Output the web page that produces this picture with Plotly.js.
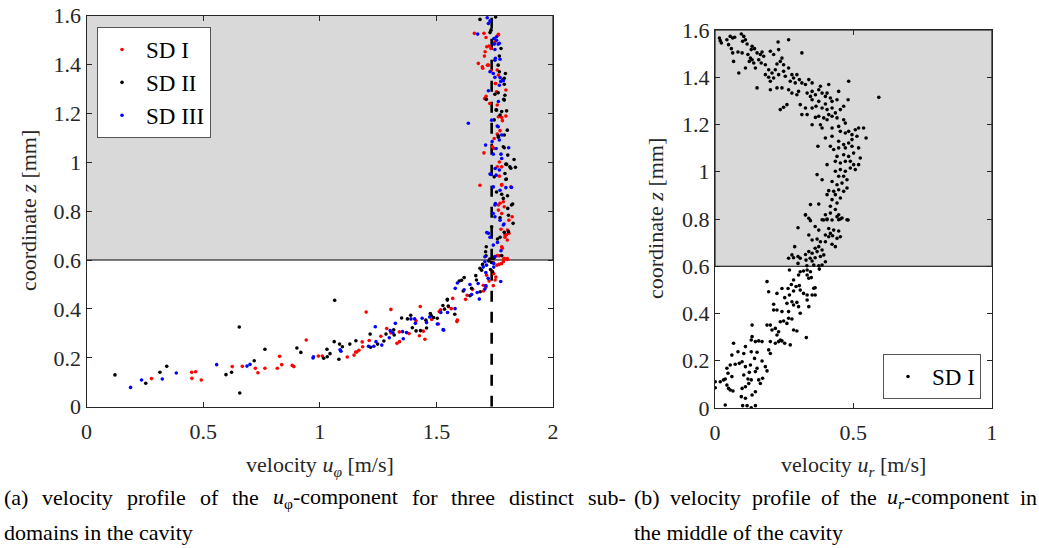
<!DOCTYPE html>
<html>
<head>
<meta charset="utf-8">
<script src="https://cdn.plot.ly/plotly-3.0.1.min.js"></script>
<style>html,body{margin:0;padding:0;background:#fff;}#chart{width:1039px;height:548px;}</style>
</head>
<body>
<div id="chart"></div>
<script>
// ---------- DATA (a): u_phi [m/s] vs z [mm] ----------
const sd1U = [0.279,0.451,0.468,0.452,0.492,0.625,0.668,0.724,0.735,0.765,0.818,0.828,0.837,0.882,0.889,0.942,0.994,1.011,1.118,1.147,1.154,1.159,1.168,1.184,1.182,1.199,1.212,1.262,1.287,1.305,1.305,1.331,1.342,1.341,1.383,1.413,1.427,1.431,1.444,1.451,1.480,1.509,1.512,1.518,1.564,1.588,1.552,1.570,1.590,
1.625,1.632,1.655,1.702,1.715,1.726,1.701,1.713,1.746,1.752,1.755,1.744,1.760,1.769,1.779,1.789,1.804,1.751,1.737,
1.663,1.704,1.766,1.713,1.751,1.716,1.734,1.709,1.706,1.680,1.719,1.699,1.761,1.766,1.753,1.758,1.798,1.713,1.707,1.761,1.766,1.798,1.783,1.773,1.761,1.740,1.704,1.770,1.780,1.770,1.687,1.780,1.819,1.773,1.787,1.766,1.780,1.811,1.777,1.801,1.794,1.804,1.780,1.770,1.790,1.804,
1.765,1.726,1.697,1.723,1.734,1.754,1.729,1.780,1.748,1.748,1.761,1.780,1.766,1.791,1.825,1.805,1.794,1.811,1.783,1.761,1.787,1.744];
const sd1Z = [0.115,0.141,0.143,0.116,0.109,0.164,0.165,0.157,0.139,0.157,0.157,0.206,0.172,0.169,0.164,0.273,0.207,0.207,0.203,0.211,0.224,0.224,0.231,0.245,0.265,0.387,0.271,0.288,0.320,0.302,0.398,0.259,0.266,0.306,0.299,0.351,0.290,0.410,0.309,0.276,0.357,0.338,0.389,0.396,0.401,0.348,0.409,0.443,0.354,
0.439,0.456,0.480,0.473,0.538,0.514,0.497,0.490,0.544,0.518,0.530,0.495,0.579,0.582,0.585,0.601,0.602,0.613,0.555,
1.527,1.527,1.523,1.510,1.492,1.472,1.465,1.452,1.434,1.404,1.397,1.384,1.377,1.356,1.322,1.288,1.295,1.270,1.260,1.234,1.186,1.189,1.170,1.129,1.115,1.063,1.038,1.001,0.981,0.943,0.906,0.909,0.899,0.832,0.838,0.804,0.790,0.763,0.726,0.703,0.693,0.682,0.654,0.617,0.607,0.606,
1.519,1.475,1.390,1.397,1.374,1.322,1.240,1.183,1.097,1.056,0.981,0.906,0.825,0.818,0.777,0.723,0.702,0.709,0.648,0.618,0.593,0.590];

const sd2U = [0.122,0.254,0.315,0.344,0.598,0.622,0.655,0.657,0.719,0.765,0.902,0.919,1.017,1.032,1.031,1.044,1.064,1.062,1.082,1.097,1.085,1.129,1.155,1.218,1.216,1.248,1.275,1.284,1.317,1.319,1.351,1.376,1.390,1.397,1.413,1.432,1.455,1.458,1.474,1.478,1.488,1.504,1.528,1.535,1.547,1.551,1.579,1.547,
1.598,1.608,1.619,1.615,1.651,1.644,1.669,1.672,1.688,1.687,1.694,1.698,1.732,1.736,1.741,1.746,1.729,1.724,
1.687,1.754,1.734,1.730,1.777,1.770,1.770,1.796,1.791,1.784,1.791,1.751,1.714,1.794,1.789,1.756,1.780,1.801,1.773,1.748,1.804,1.766,1.787,1.806,1.833,1.798,1.819,1.839,1.794,1.798,1.758,1.780,1.787,1.827,1.806,1.809,1.809,1.773,1.714,1.711,1.713,1.744,
1.765,1.765,1.791,1.758,1.791,1.791,1.765,1.815,1.801,1.800,1.748,1.805,1.822,1.773,1.829,1.737,1.791,1.762,1.780];
const sd2Z = [0.130,0.096,0.141,0.165,0.131,0.141,0.326,0.056,0.188,0.235,0.240,0.222,0.198,0.204,0.235,0.217,0.435,0.266,0.194,0.245,0.256,0.256,0.270,0.243,0.297,0.256,0.269,0.297,0.315,0.293,0.363,0.359,0.374,0.323,0.310,0.311,0.354,0.322,0.381,0.373,0.365,0.362,0.414,0.399,0.436,0.412,0.378,0.439,
0.514,0.517,0.528,0.473,0.484,0.454,0.536,0.518,0.470,0.566,0.558,0.582,0.561,0.590,0.552,0.607,0.604,0.596,
1.584,1.594,1.540,1.530,1.465,1.434,1.370,1.363,1.343,1.336,1.319,1.278,1.257,1.274,1.257,1.214,1.207,1.210,1.193,1.173,1.131,1.102,1.063,1.029,1.011,0.992,0.975,0.979,0.954,0.929,0.878,0.869,0.852,0.829,0.811,0.783,0.716,0.693,0.654,0.634,0.617,0.607,
1.397,1.284,1.254,1.213,1.111,1.059,1.108,0.981,0.991,0.931,0.940,0.863,0.825,0.773,0.750,0.736,0.713,0.686,0.618];

const sd3U = [0.189,0.236,0.325,0.385,0.558,0.688,0.701,0.971,0.973,1.087,1.091,1.209,1.232,1.238,1.241,1.266,1.298,1.302,1.314,1.324,1.355,1.358,1.372,1.391,1.410,1.407,1.439,1.458,1.471,1.504,1.519,1.531,1.548,1.580,1.529,
1.619,1.644,1.651,1.679,1.675,1.684,1.701,1.715,1.712,1.712,1.708,1.722,1.746,1.776,1.708,1.590,1.581,
1.718,1.723,1.730,1.677,1.747,1.758,1.770,1.751,1.753,1.773,1.730,1.744,1.751,1.776,1.770,1.723,1.766,1.637,1.761,1.780,1.770,1.711,1.810,1.756,1.744,1.777,1.780,1.770,1.730,1.756,1.744,1.798,1.773,1.751,1.744,1.773,1.790,1.716,1.730,1.744,1.777,1.751,
1.758,1.748,1.765,1.751,1.773,1.787,1.737,1.765,1.739,1.752,1.734,1.822,1.753,1.751,1.787,1.723,1.762,1.708,1.746];
const sd3Z = [0.079,0.109,0.113,0.138,0.172,0.166,0.173,0.199,0.204,0.233,0.227,0.247,0.247,0.327,0.266,0.252,0.282,0.311,0.302,0.341,0.307,0.278,0.303,0.359,0.341,0.359,0.362,0.344,0.367,0.338,0.385,0.313,0.385,0.401,0.316,
0.478,0.500,0.459,0.504,0.467,0.440,0.571,0.579,0.549,0.495,0.481,0.525,0.571,0.512,0.613,0.506,0.484,
1.591,1.567,1.578,1.524,1.506,1.499,1.486,1.461,1.425,1.421,1.370,1.363,1.347,1.330,1.315,1.292,1.248,1.159,1.148,1.111,1.091,1.070,1.059,1.056,1.033,1.033,1.015,0.968,0.952,0.947,0.899,0.896,0.885,0.825,0.790,0.763,0.747,0.712,0.693,0.661,0.638,0.614,
1.513,1.483,1.483,1.417,1.346,1.333,1.172,1.145,1.084,0.974,0.950,0.897,0.831,0.777,0.743,0.709,0.672,0.593,0.586];

const wallSpeed = 1.737;   // dashed reference line u_phi
const cavityTop = 0.6;     // lower edge of grey region [mm]
const zMax = 1.6;

// ---------- DATA (b): u_r [m/s] vs z [mm], SD I ----------
const urU = [0.016,0.023,0.019,0.043,0.055,0.064,0.071,0.095,0.104,0.110,0.100,0.116,0.134,0.131,0.143,0.049,0.059,0.064,0.083,0.098,0.067,0.086,0.110,0.119,0.128,0.124,0.134,0.140,0.152,0.164,0.170,0.176,0.158,0.146,0.167,0.182,0.194,0.200,0.212,0.228,0.230,0.266,0.242,0.236,0.248,0.224,0.218,0.206,0.194,0.182,0.200,0.212,0.230,0.248,0.254,0.266,0.278,0.284,0.272,0.296,0.305,0.314,0.290,0.314,0.327,0.339,0.351,0.351,0.333,0.345,0.363,0.375,0.381,0.387,0.405,0.411,0.399,0.417,0.447,0.441,0.423,0.399,0.387,0.365,0.351,0.327,0.308,0.314,0.333,0.260,0.248,0.236,0.152,0.200,0.224,0.242,0.266,0.278,0.296,0.302,0.351,0.375,0.405,0.423,0.435,0.453,0.465,0.483,0.481,0.592,0.411,0.405,0.393,0.375,0.363,0.351,0.381,0.387,0.423,0.441,0.465,0.471,0.447,0.423,0.453,0.471,0.483,0.495,0.507,0.519,0.537,0.546,0.513,0.495,0.483,0.465,0.447,0.423,0.399,0.372,0.417,0.429,0.447,0.471,0.495,0.519,0.501,0.483,0.465,0.441,0.435,0.453,0.471,0.489,0.501,0.519,0.525,0.507,0.489,0.471,0.453,0.435,0.447,0.465,0.477,0.459,0.441,0.423,0.405,0.369,0.387,0.429,0.447,0.465,0.477,0.453,0.435,0.423,0.441,0.417,0.435,0.447,0.417,0.399,0.405,0.375,0.345,0.327,0.345,0.387,0.447,0.459,0.477,0.411,0.405,
0.327,0.339,0.393,0.405,0.423,0.441,0.453,0.481,0.300,0.362,0.375,0.411,0.429,0.447,0.417,0.399,0.411,0.425,0.441,0.453,0.339,0.351,0.369,0.381,0.399,0.423,0.435,0.375,0.362,0.288,0.387,0.369,0.351,0.339,0.327,0.393,0.381,0.362,0.344,0.329,0.308,0.300,0.284,0.266,0.278,0.351,0.399,0.387,0.332,0.357,0.375,0.300,
0.269,0.308,0.320,0.333,0.345,0.377,0.302,0.333,0.284,0.339,0.348,0.276,0.293,0.305,0.308,0.264,0.284,0.269,0.242,0.224,0.188,0.194,0.320,0.333,0.351,0.362,0.357,0.362,0.252,0.278,0.296,0.260,0.333,0.302,0.284,0.212,0.224,0.212,0.242,0.266,0.308,0.339,0.236,0.248,0.266,0.278,0.260,0.188,0.200,0.206,0.218,0.230,0.284,0.296,0.134,0.224,0.236,0.230,0.242,0.252,0.272,0.218,0.200,0.330,0.146,0.158,0.170,0.134,0.131,0.067,0.110,0.194,0.200,0.083,0.061,0.104,0.131,0.152,0.143,0.170,0.098,0.088,0.073,0.055,0.110,0.128,0.043,0.152,0.182,0.188,0.124,0.146,0.047,0.104,0.061,0.172,0.119,0.131,0.031,0.019,0.037,0.001,0.043,0.049,0.055,0.065,0.098,0.122,0.164,0.158,0.110,0.146,0.001,0.095,0.110,0.134,0.037,0.100,0.116,0.131,0.146];
const urZ = [1.566,1.545,1.555,1.559,1.573,1.566,1.569,1.583,1.573,1.559,1.552,1.541,1.531,1.517,1.521,1.538,1.521,1.503,1.507,1.503,1.467,1.418,1.439,1.496,1.481,1.467,1.474,1.460,1.503,1.496,1.507,1.489,1.474,1.439,1.460,1.453,1.432,1.510,1.496,1.549,1.517,1.559,1.481,1.467,1.453,1.456,1.432,1.418,1.400,1.411,1.383,1.397,1.411,1.425,1.404,1.439,1.411,1.397,1.383,1.411,1.390,1.503,1.376,1.376,1.369,1.390,1.376,1.340,1.333,1.319,1.326,1.347,1.362,1.333,1.333,1.369,1.319,1.312,1.340,1.305,1.298,1.287,1.270,1.277,1.270,1.270,1.284,1.242,1.242,1.284,1.273,1.263,1.355,1.347,1.355,1.355,1.347,1.333,1.326,1.340,1.305,1.298,1.263,1.270,1.249,1.263,1.277,1.383,1.305,1.315,1.242,1.220,1.228,1.235,1.230,1.199,1.199,1.185,1.235,1.228,1.220,1.206,1.192,1.185,1.171,1.164,1.171,1.157,1.178,1.185,1.185,1.143,1.150,1.136,1.122,1.115,1.129,1.150,1.143,1.108,1.108,1.094,1.101,1.101,1.108,1.101,1.079,1.065,1.072,1.065,1.044,1.037,1.044,1.044,1.030,1.030,1.058,1.009,1.016,1.002,1.009,1.002,0.981,0.981,0.966,0.952,0.945,0.959,1.030,0.988,0.966,0.917,0.924,0.917,0.931,0.889,0.903,0.882,0.868,0.854,0.840,0.818,0.825,0.818,0.797,0.863,0.861,0.818,0.793,0.797,0.797,0.804,0.797,0.920,0.903,
0.817,0.803,0.796,0.800,0.796,0.810,0.800,0.796,0.763,0.768,0.753,0.760,0.753,0.749,0.739,0.732,0.725,0.729,0.718,0.725,0.732,0.711,0.715,0.704,0.704,0.693,0.683,0.683,0.676,0.683,0.669,0.662,0.655,0.662,0.650,0.648,0.641,0.636,0.634,0.626,0.634,0.641,0.636,0.634,0.648,0.622,0.619,0.605,0.602,0.605,0.602,0.612,
0.584,0.577,0.580,0.584,0.577,0.588,0.563,0.563,0.542,0.549,0.552,0.523,0.514,0.518,0.499,0.506,0.495,0.478,0.506,0.485,0.535,0.492,0.485,0.478,0.478,0.478,0.507,0.509,0.467,0.450,0.447,0.443,0.457,0.429,0.436,0.439,0.415,0.415,0.408,0.408,0.401,0.429,0.365,0.368,0.380,0.377,0.358,0.351,0.351,0.330,0.337,0.323,0.330,0.326,0.351,0.309,0.288,0.281,0.284,0.274,0.267,0.274,0.281,0.298,0.281,0.284,0.281,0.302,0.288,0.274,0.260,0.246,0.231,0.238,0.224,0.231,0.238,0.236,0.210,0.199,0.196,0.189,0.185,0.182,0.175,0.182,0.168,0.168,0.175,0.157,0.151,0.154,0.147,0.140,0.133,0.126,0.123,0.119,0.119,0.111,0.123,0.111,0.097,0.083,0.076,0.072,0.083,0.104,0.104,0.119,0.090,0.069,0.086,0.048,0.041,0.055,0.013,0.010,0.010,0.001,0.010];

// ---------- CAPTION TEXT ----------
const capA1 = ['(a)', 'velocity', 'profile', 'of', 'the', '<i>u</i><sub>φ</sub>-component', 'for', 'three', 'distinct', 'sub-'];
const capA2 = 'domains in the cavity';
const capB1 = ['(b)', 'velocity', 'profile', 'of', 'the', '<i>u</i><sub><i>r</i></sub>-component', 'in'];
const capB2 = 'the middle of the cavity';

// ---------- STYLE ----------
const serifName = 'Liberation Serif';
const serif = "Liberation Serif, DejaVu Serif, serif";
const axCol = '#262626';
const dot = (c) => ({color: c, size: 3.6});
const W = 1039, H = 548;
const capSize = 22;

const traces = [
  {x: [wallSpeed, wallSpeed], y: [0, zMax], mode: 'lines', line: {color: '#000', width: 2.6, dash: '11px,10px'}, showlegend: false, hoverinfo: 'skip', xaxis: 'x', yaxis: 'y'},
  {x: sd1U, y: sd1Z, mode: 'markers', name: 'SD I', marker: dot('#ff0000'), xaxis: 'x', yaxis: 'y', legend: 'legend'},
  {x: sd2U, y: sd2Z, mode: 'markers', name: 'SD II', marker: dot('#000000'), xaxis: 'x', yaxis: 'y', legend: 'legend'},
  {x: sd3U, y: sd3Z, mode: 'markers', name: 'SD III', marker: dot('#0000ff'), xaxis: 'x', yaxis: 'y', legend: 'legend'},
  {x: urU, y: urZ, mode: 'markers', name: 'SD I', marker: dot('#000000'), xaxis: 'x2', yaxis: 'y2', legend: 'legend2'}
];

const axBase = {
  showline: true, linecolor: axCol, linewidth: 1, mirror: 'ticks', ticks: 'inside', ticklen: 5, tickcolor: axCol,
  showgrid: false, zeroline: false, tickfont: {family: serif, size: 22, color: axCol}
};
const capFont = {family: serif, size: capSize, color: '#000'};
const titleFont = {family: serif, size: 22, color: axCol};
const ann = (x, y, text, xa, font, extra) => Object.assign({xref: 'paper', yref: 'paper', x: x, y: y, xanchor: xa, yanchor: 'middle', showarrow: false, text: text, font: font, borderpad: 0}, extra || {});

// measure a caption word (handles <i> and <sub> roughly like Plotly renders)
const ctx = document.createElement('canvas').getContext('2d');
function wordWidth(html) {
  let w = 0;
  const re = /<sub>(.*?)<\/sub>|<i>(.*?)<\/i>|([^<]+)/g;
  let m;
  while ((m = re.exec(html)) !== null) {
    if (m[1] !== undefined) {
      const t = m[1].replace(/<\/?i>/g, '');
      const it = /<i>/.test(m[1]);
      ctx.font = (it ? 'italic ' : '') + (capSize * 0.7) + 'px "' + serifName + '"';
      w += ctx.measureText(t).width;
    } else if (m[2] !== undefined) {
      ctx.font = 'italic ' + capSize + 'px "' + serifName + '"';
      w += ctx.measureText(m[2]).width;
    } else {
      ctx.font = capSize + 'px "' + serifName + '"';
      w += ctx.measureText(m[3]).width;
    }
  }
  return w;
}
function justified(words, xLeft, xRight, yPx) {
  const ws = words.map(wordWidth);
  const total = ws.reduce((a, b) => a + b, 0);
  const gap = (xRight - xLeft - total) / (words.length - 1);
  const out = [];
  let x = xLeft;
  words.forEach((wd, i) => {
    out.push(ann(x / W, 1 - yPx / H, wd, 'left', capFont));
    x += ws[i] + gap;
  });
  return out;
}

function draw() {
  const layout = {
    width: W, height: H,
    margin: {l: 0, r: 0, t: 0, b: 0},
    paper_bgcolor: '#fff', plot_bgcolor: '#fff',
    showlegend: true,
    xaxis: Object.assign({}, axBase, {domain: [86.5/W, 553/W], range: [0, 2], dtick: 0.5, anchor: 'y', ticklabelstandoff: 5}),
    yaxis: Object.assign({}, axBase, {domain: [1-406.7/H, 1-15.5/H], range: [0, zMax], dtick: 0.2, anchor: 'x'}),
    xaxis2: Object.assign({}, axBase, {domain: [715/W, 991.7/W], range: [0, 1], dtick: 0.5, anchor: 'y2', ticklabelstandoff: 5}),
    yaxis2: Object.assign({}, axBase, {domain: [1-408/H, 1-30/H], range: [0, zMax], dtick: 0.2, anchor: 'x2'}),
    shapes: [
      {type: 'rect', xref: 'x', yref: 'y', x0: 0, x1: 2, y0: cavityTop, y1: zMax, fillcolor: '#d9d9d9', line: {color: '#000', width: 1}, layer: 'below'},
      {type: 'rect', xref: 'x2', yref: 'y2', x0: 0, x1: 1, y0: cavityTop, y1: zMax, fillcolor: '#d9d9d9', line: {color: '#000', width: 1}, layer: 'below'}
    ],
    legend: {x: 97/W, y: 1-27/H, xanchor: 'left', yanchor: 'top', bgcolor: '#fff', bordercolor: '#555', borderwidth: 1,
      font: {family: serif, size: 23, color: '#000'}, itemwidth: 38},
    legend2: {x: 981/W, y: 1-399/H, xanchor: 'right', yanchor: 'bottom', bgcolor: '#fff', bordercolor: '#555', borderwidth: 1,
      font: {family: serif, size: 23, color: '#000'}, itemwidth: 38},
    annotations: [
      ann((86.5+553)/2/W, 1-466/H, 'velocity <i>u</i><sub><i>φ</i></sub> [m/s]', 'center', titleFont),
      ann(853/W, 1-466/H, 'velocity <i>u</i><sub><i>r</i></sub> [m/s]', 'center', titleFont),
      ann(28/W, 1-211/H, 'coordinate <i>z</i> [mm]', 'center', titleFont, {textangle: -90}),
      ann(655/W, 1-219/H, 'coordinate <i>z</i> [mm]', 'center', titleFont, {textangle: -90}),
      ann(3/W, 1-532/H, capA2, 'left', capFont),
      ann(633/W, 1-532/H, capB2, 'left', capFont)
    ].concat(justified(capA1, 3, 625, 498), justified(capB1, 633, 1036, 498))
  };
  Plotly.newPlot('chart', traces, layout, {displayModeBar: false, staticPlot: true});
}
if (document.fonts && document.fonts.load) {
  document.fonts.load(capSize + 'px "' + serifName + '"').then(draw, draw);
} else { draw(); }
</script>
</body>
</html>
